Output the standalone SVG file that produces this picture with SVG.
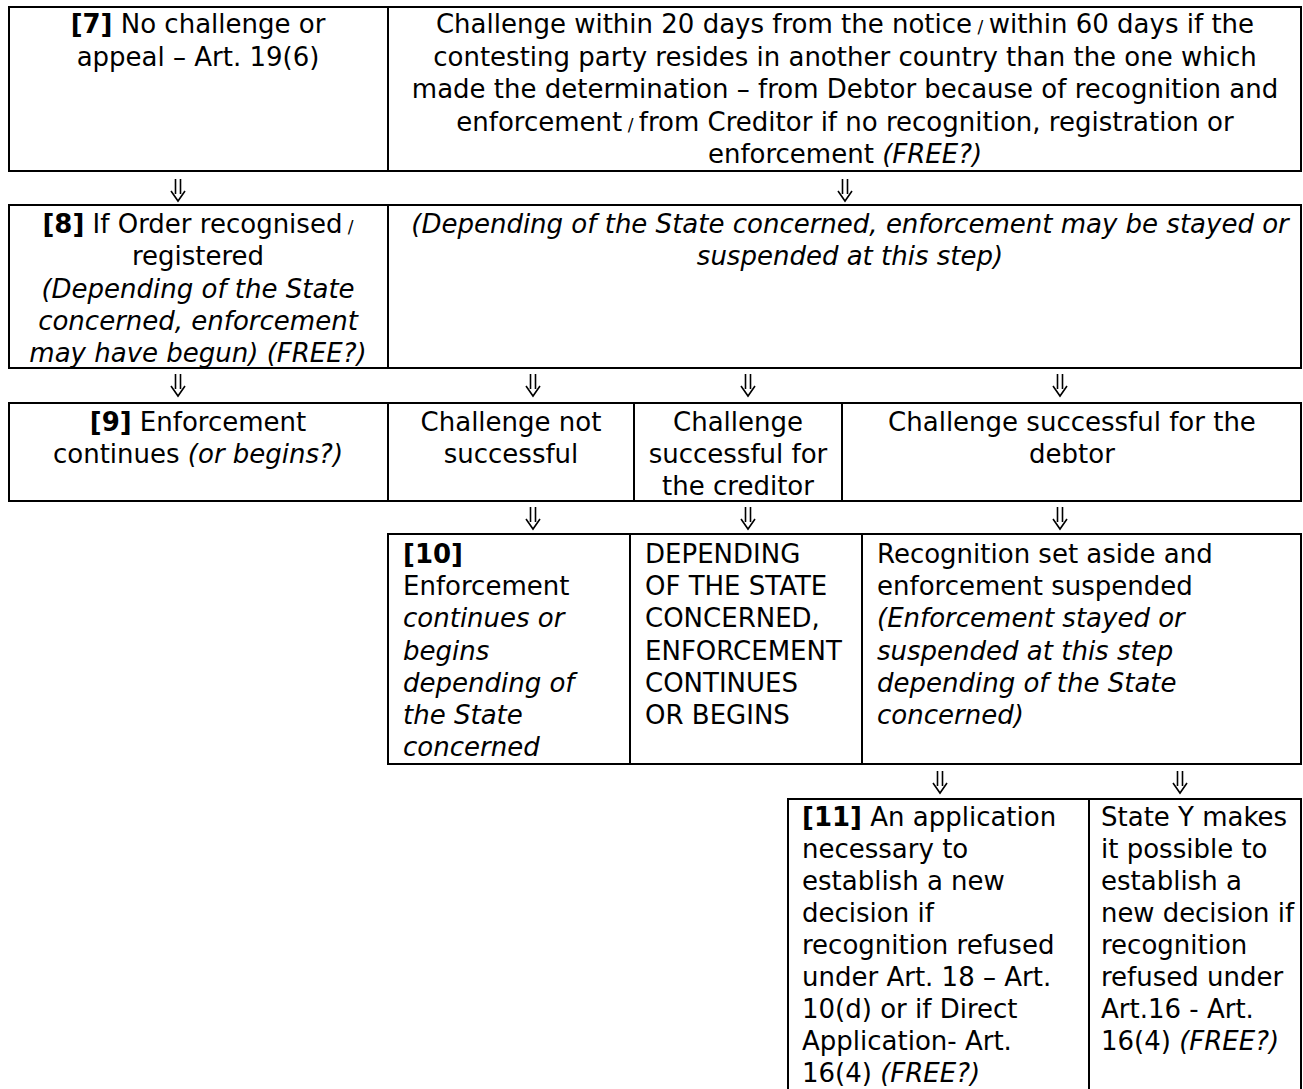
<svg xmlns="http://www.w3.org/2000/svg" width="1303" height="1089" viewBox="0 0 1303 1089">
<defs>
<style>
text{font-family:"DejaVu Sans",Verdana,sans-serif;font-size:26px;fill:#000}
.c{text-anchor:middle}
.b{font-weight:bold}
.i{font-style:italic}
.sl{font-size:17px}
rect.cell{fill:#fff;stroke:#000;stroke-width:2}
.arr{fill:none;stroke:#000;stroke-width:1.6}
</style>
<path id="dArrow" class="arr" d="M-2.5 0V15M2.5 0V15M-7 12L0 22L7 12"/>
</defs>
<rect width="1303" height="1089" fill="#fff"/>

<g id="row7-no-challenge">
<rect class="cell" x="9" y="7" width="379" height="164"/>
<text class="c" x="198" y="33"><tspan class="b">[7]</tspan> No challenge or</text>
<text class="c" x="198" y="66">appeal – Art. 19(6)</text>
</g>
<g id="row7-challenge">
<rect class="cell" x="388" y="7" width="913" height="164"/>
<text class="c" x="845" y="33">Challenge within 20 days from the notice<tspan class="sl"> / </tspan>within 60 days if the</text>
<text class="c" x="845" y="66">contesting party resides in another country than the one which</text>
<text class="c" x="845" y="98">made the determination – from Debtor because of recognition and</text>
<text class="c" x="845" y="131">enforcement<tspan class="sl"> / </tspan>from Creditor if no recognition, registration or</text>
<text class="c" x="845" y="163">enforcement <tspan class="i">(FREE?)</tspan></text>
</g>

<g id="row8-recognised">
<rect class="cell" x="9" y="205" width="379" height="163"/>
<text class="c" x="198" y="233"><tspan class="b">[8]</tspan> If Order recognised<tspan class="sl"> /</tspan></text>
<text class="c" x="198" y="265">registered</text>
<text class="c i" x="198" y="298">(Depending of the State</text>
<text class="c i" x="198" y="330">concerned, enforcement</text>
<text class="c i" x="198" y="362">may have begun) (FREE?)</text>
</g>
<g id="row8-stay">
<rect class="cell" x="388" y="205" width="913" height="163"/>
<text class="c i" x="850" y="233">(Depending of the State concerned, enforcement may be stayed or</text>
<text class="c i" x="850" y="265">suspended at this step)</text>
</g>

<g id="row9-enforcement">
<rect class="cell" x="9" y="403" width="379" height="98"/>
<text class="c" x="198" y="431"><tspan class="b">[9]</tspan> Enforcement</text>
<text class="c" x="198" y="463">continues <tspan class="i">(or begins?)</tspan></text>
</g>
<g id="row9-not-successful">
<rect class="cell" x="388" y="403" width="246" height="98"/>
<text class="c" x="511" y="431">Challenge not</text>
<text class="c" x="511" y="463">successful</text>
</g>
<g id="row9-creditor">
<rect class="cell" x="634" y="403" width="208" height="98"/>
<text class="c" x="738" y="431">Challenge</text>
<text class="c" x="738" y="463">successful for</text>
<text class="c" x="738" y="495">the creditor</text>
</g>
<g id="row9-debtor">
<rect class="cell" x="842" y="403" width="459" height="98"/>
<text class="c" x="1072" y="431">Challenge successful for the</text>
<text class="c" x="1072" y="463">debtor</text>
</g>

<g id="row10-continues">
<rect class="cell" x="388" y="534" width="242" height="230"/>
<text class="b" x="403" y="563">[10]</text>
<text x="403" y="595">Enforcement</text>
<text class="i" x="403" y="627">continues or</text>
<text class="i" x="403" y="660">begins</text>
<text class="i" x="403" y="692">depending of</text>
<text class="i" x="403" y="724">the State</text>
<text class="i" x="403" y="756">concerned</text>
</g>
<g id="row10-depending">
<rect class="cell" x="630" y="534" width="232" height="230"/>
<text x="645" y="563">DEPENDING</text>
<text x="645" y="595">OF THE STATE</text>
<text x="645" y="627">CONCERNED,</text>
<text x="645" y="660">ENFORCEMENT</text>
<text x="645" y="692">CONTINUES</text>
<text x="645" y="724">OR BEGINS</text>
</g>
<g id="row10-set-aside">
<rect class="cell" x="862" y="534" width="439" height="230"/>
<text x="877" y="563">Recognition set aside and</text>
<text x="877" y="595">enforcement suspended</text>
<text class="i" x="877" y="627">(Enforcement stayed or</text>
<text class="i" x="877" y="660">suspended at this step</text>
<text class="i" x="877" y="692">depending of the State</text>
<text class="i" x="877" y="724">concerned)</text>
</g>

<g id="row11-application">
<rect class="cell" x="788" y="799" width="301" height="300"/>
<text x="802" y="826"><tspan class="b">[11]</tspan> An application</text>
<text x="802" y="858">necessary to</text>
<text x="802" y="890">establish a new</text>
<text x="802" y="922">decision if</text>
<text x="802" y="954">recognition refused</text>
<text x="802" y="986">under Art. 18 – Art.</text>
<text x="802" y="1018">10(d) or if Direct</text>
<text x="802" y="1050">Application- Art.</text>
<text x="802" y="1082">16(4) <tspan class="i">(FREE?)</tspan></text>
</g>
<g id="row11-state-y">
<rect class="cell" x="1089" y="799" width="212" height="300"/>
<text x="1101" y="826">State Y makes</text>
<text x="1101" y="858">it possible to</text>
<text x="1101" y="890">establish a</text>
<text x="1101" y="922" textLength="193" lengthAdjust="spacingAndGlyphs">new decision if</text>
<text x="1101" y="954">recognition</text>
<text x="1101" y="986">refused under</text>
<text x="1101" y="1018">Art.16 - Art.</text>
<text x="1101" y="1050">16(4) <tspan class="i">(FREE?)</tspan></text>
</g>

<g id="connectors">
<use href="#dArrow" x="178" y="179"/>
<use href="#dArrow" x="845" y="179"/>
<use href="#dArrow" x="178" y="374"/>
<use href="#dArrow" x="533" y="374"/>
<use href="#dArrow" x="748" y="374"/>
<use href="#dArrow" x="1060" y="374"/>
<use href="#dArrow" x="533" y="507"/>
<use href="#dArrow" x="748" y="507"/>
<use href="#dArrow" x="1060" y="507"/>
<use href="#dArrow" x="940" y="771"/>
<use href="#dArrow" x="1180" y="771"/>
</g>
</svg>
